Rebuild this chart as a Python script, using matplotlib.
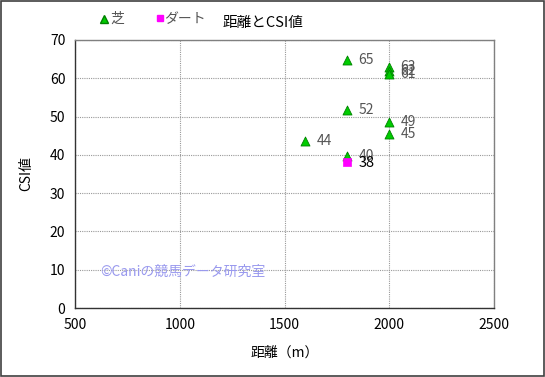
import matplotlib
matplotlib.use("Agg")

import matplotlib.pyplot as plt
from matplotlib.patches import Rectangle

plt.rcParams['font.family'] = ['Noto Sans CJK JP', 'DejaVu Sans']

# ── data ─────────────────────────────────────────────────────────────
turf_dist = [1800, 2000, 2000, 2000, 1800, 2000, 2000, 1600, 1800]
turf_csi = [65, 63, 62, 61, 52, 49, 45, 44, 40]
turf_csi_pos = [64.8, 63.0, 62.0, 61.2, 51.6, 48.6, 45.4, 43.6, 39.6]
dirt_dist = [1800]
dirt_csi = [38]
dirt_csi_pos = [38.0]

xticks = [500, 1000, 1500, 2000, 2500]
yticks = [0, 10, 20, 30, 40, 50, 60, 70]

# ── figure ───────────────────────────────────────────────────────────
fig = plt.figure(figsize=(5.45, 3.77), dpi=100)
ax = fig.add_axes([0.1376, 0.183, 0.769, 0.711])

ax.scatter(turf_dist, turf_csi_pos, marker="^", s=42, color="#00cc00",
           edgecolors="#008000", linewidths=0.6, zorder=3)
ax.scatter(dirt_dist, dirt_csi_pos, marker="s", s=34, color="#ff00ff",
           edgecolors="#ff00ff", linewidths=0.5, zorder=3)

for x, y, v in zip(turf_dist, turf_csi_pos, turf_csi):
    ax.annotate(str(v), (x, y), xytext=(8, 0), textcoords="offset points",
                va="center", ha="left", fontsize=10, color="#555555")
for x, y, v in zip(dirt_dist, dirt_csi_pos, dirt_csi):
    ax.annotate(str(v), (x, y), xytext=(8, -0.5), textcoords="offset points",
                va="center", ha="left", fontsize=10.5, color="black")

ax.set_xlim(500, 2500)
ax.set_ylim(0, 70)
ax.set_xticks(xticks)
ax.set_yticks(yticks)
ax.tick_params(length=0, labelsize=10, pad=7)
ax.grid(True, color="#999999", linestyle=(0, (1, 1)), linewidth=0.8)
for side, sp in ax.spines.items():
    sp.set_color("#808080" if side in ("top", "right") else "#333333")
    sp.set_linewidth(1.0)

ax.set_xlabel("距離（m）", fontsize=10, labelpad=10)
ax.set_ylabel("CSI値", fontsize=10, labelpad=12)

ax.text(0.06, 0.134, "©Caniの競馬データ研究室", transform=ax.transAxes,
        fontsize=10, color="#9999ee", va="center", ha="left")

# title and legend across the top
fig.text(0.483, 0.938, "距離とCSI値", fontsize=10.5, ha="center", va="center")
fig.lines.append(plt.Line2D([0.191], [0.950], marker="^", markersize=6,
                            color="#00cc00", markeredgecolor="#008000",
                            transform=fig.transFigure))
fig.text(0.202, 0.950, "芝", fontsize=10, color="#555555", va="center")
fig.lines.append(plt.Line2D([0.294], [0.952], marker="s", markersize=5,
                            color="#ff00ff", transform=fig.transFigure))
fig.text(0.302, 0.950, "ダート", fontsize=10, color="#555555", va="center")

fig.patches.append(Rectangle((0.002, 0.003), 0.996, 0.994, fill=False,
                             edgecolor="#404040", linewidth=1.2,
                             transform=fig.transFigure))

fig.savefig("out.png", dpi=100)
